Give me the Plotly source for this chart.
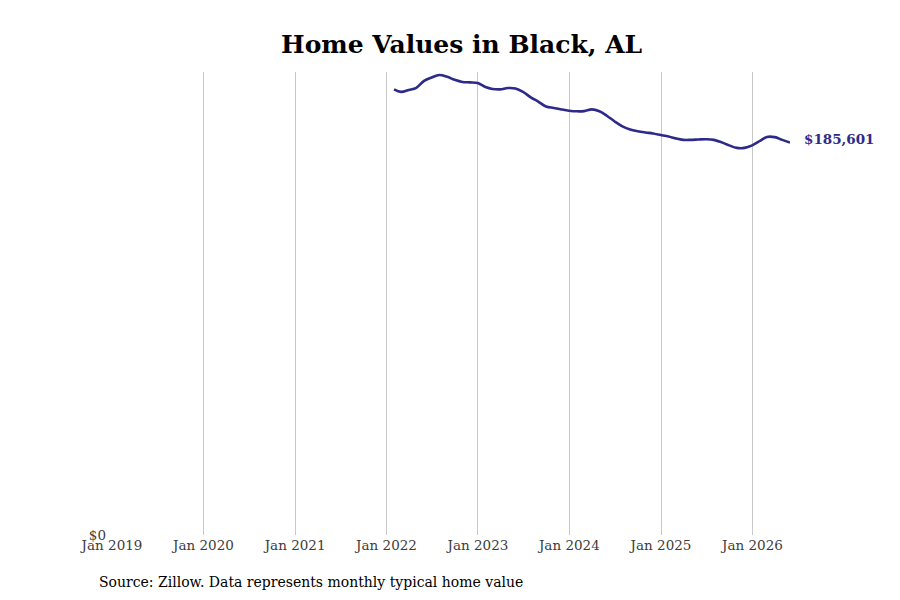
import pandas as pd
import plotly.graph_objects as go

# monthly typical home value (Zillow, month-end dates)
dates = pd.date_range("2022-01-31", "2026-05-31", freq="ME")
values = [
    210800, 209600, 210500, 211500, 214800, 216400, 217600, 216700, 215300, 214300, 214100, 213800,
    211900, 211000, 210800, 211400, 211200, 209600, 207000, 204900, 202700, 202000, 201300, 200700,
    200400, 200500, 201300, 200400, 198200, 195600, 193300, 191800, 191000, 190400, 189900, 189200,
    188500, 187600, 186900, 186900, 187100, 187200, 186900, 185700, 184300, 183100, 183100, 184300,
    186400, 188300, 188200, 186900, 185601,
]
tick_vals = pd.date_range("2019-01-01", "2026-01-01", freq="YS")
tick_text = [d.strftime("Jan %Y") for d in tick_vals]

line_color = "#2E2A8A"

fig = go.Figure()
fig.add_trace(go.Scatter(x=dates, y=values, mode="lines",
                         line=dict(color=line_color, width=2.6, shape="spline"),
                         hoverinfo="x+y"))

fig.add_annotation(x=dates[-1], y=values[-1], text=f"<b>${values[-1]:,}</b>",
                   showarrow=False, xanchor="left", yanchor="middle", xshift=12, yshift=4,
                   font=dict(family="DejaVu Serif", size=13.5, color=line_color))

fig.add_annotation(x=-0.022, y=-0.1015, xref="paper", yref="paper", xanchor="left", yanchor="middle",
                   text="Source: Zillow. Data represents monthly typical home value",
                   showarrow=False, font=dict(family="DejaVu Serif", size=14, color="black"))

fig.update_layout(
    width=900, height=600,
    title=dict(text="<b>Home Values in Black, AL</b>", x=0.504, xanchor="center",
               y=0.94, yanchor="middle",
               font=dict(family="DejaVu Serif", size=25, color="black")),
    font=dict(family="DejaVu Serif", size=13.5, color="#3c3c3c"),
    plot_bgcolor="white", paper_bgcolor="white",
    margin=dict(l=104, r=118, t=64, b=73),
    showlegend=False,
)
fig.update_xaxes(range=[pd.Timestamp("2019-01-01"), dates[-1]], tickvals=tick_vals, ticktext=tick_text,
                 showgrid=True, gridcolor="#c8c8c8", gridwidth=1, zeroline=False, showline=False,
                 ticks="", ticklabelstandoff=0)
fig.update_yaxes(range=[0, 219000], tickvals=[0], ticktext=["$0"], showgrid=False,
                 zeroline=False, showline=False, ticks="", ticklabelstandoff=5)

fig.write_html("out.html")
